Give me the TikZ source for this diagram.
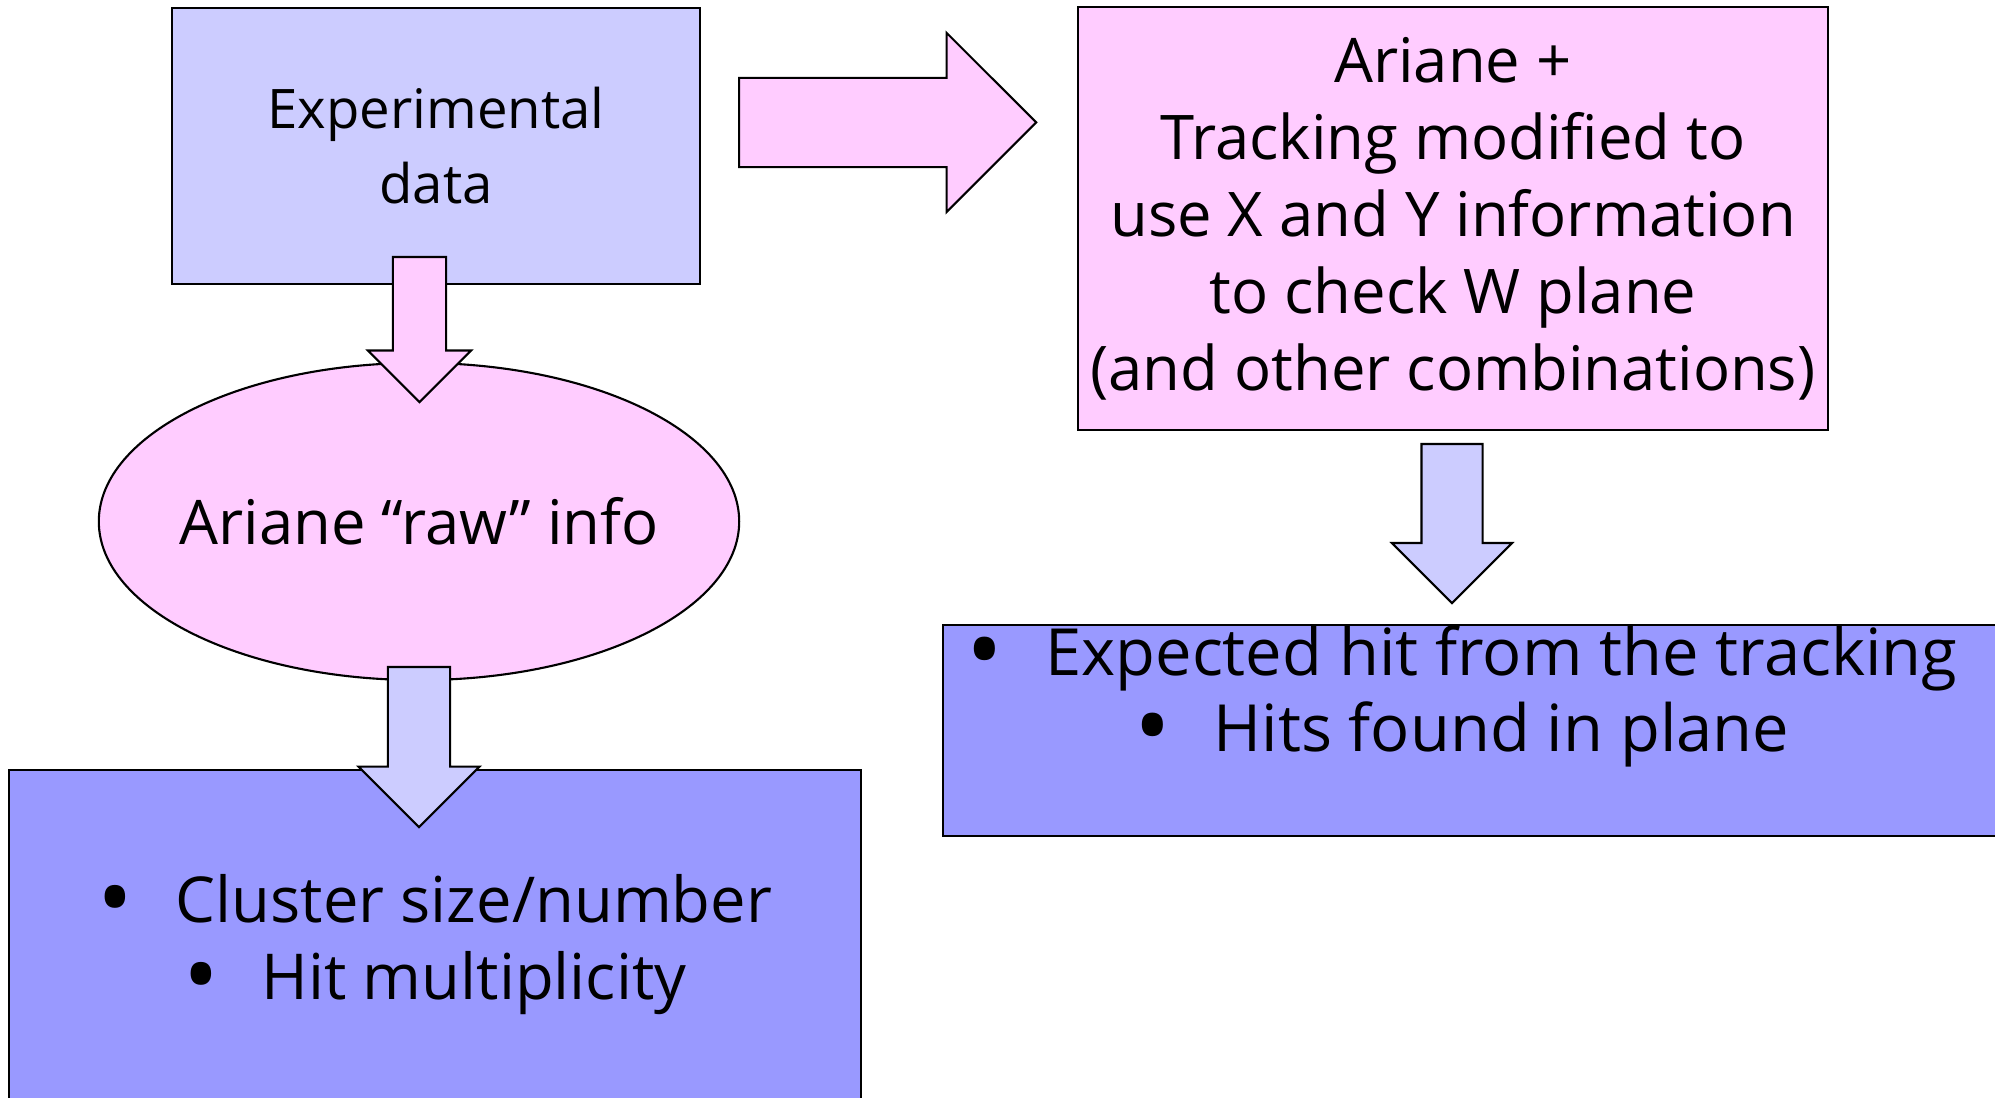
\documentclass[tikz,border=0pt]{standalone}
\usepackage{fontspec}
\setmainfont{Open Sans}
\usepackage{tikz}
\usetikzlibrary{positioning, shapes.geometric, shapes.arrows}
\definecolor{lavender}{HTML}{CCCCFF}
\definecolor{pinkish}{HTML}{FFCCFF}
\definecolor{periwinkle}{HTML}{9999FF}
\tikzset{
    block/.style={
        draw, line width=0.6pt,
        inner sep=0pt,
        align=center
    },
    fatarrow/.style={
        single arrow, draw, line width=0.6pt,
        inner xsep=0pt,
        single arrow tip angle=90,
        anchor=tail
    },
    listtext/.style={
        align=center, inner sep=0pt,
        font=\fontsize{18.5}{21.7}\selectfont
    }
}
\newcommand{\bul}{\raisebox{-0.09cm}{\scalebox{1.5}{\textbullet}}\hspace{0.42cm}}

\begin{document}
\begin{tikzpicture}[x=0.01cm, y=-0.01cm]
    \clip (0,0) rectangle (1995,1098);

    % Blocks
    \node[block, fill=lavender, minimum width=5.28cm, minimum height=2.76cm,
        font=\fontsize{15.5}{21.3}\selectfont] (expdata) at (436,146) {Experimental\\data};
    \node[block, fill=pinkish, minimum width=7.5cm, minimum height=4.23cm,
        font=\fontsize{17.5}{21.9}\selectfont] (tracking) at (1453,218.5)
        {Ariane +\\Tracking modified to\\use X and Y information\\to check W plane\\(and other combinations)};
    \node[draw, ellipse, line width=0.6pt, fill=pinkish, inner sep=0pt,
        minimum width=6.4cm, minimum height=3.17cm] (raw) at (419,521.5) {};
    \node[font=\fontsize{17.5}{21}\selectfont] (rawtext) at (raw) {Ariane “raw” info};
    \node[block, fill=periwinkle, minimum width=8.52cm, minimum height=3.5cm,
        font=\fontsize{18}{21.9}\selectfont] (cluster) at (435,945)
        {\bul Cluster size/number\\\bul Hit multiplicity};
    \node[block, fill=periwinkle, minimum width=10.87cm, minimum height=2.11cm] (hits) at (1486.5,730.5) {};
    \node[listtext, below=0.01cm of hits.north, xshift=-0.245cm] (hitstext)
        {\bul Expected hit from the tracking\\\bul Hits found in plane};

    % Arrows
    \node[fatarrow, fill=pinkish, minimum height=2.97cm, minimum width=1.77cm,
        inner ysep=0.435cm, single arrow head extend=0.45cm] (toTracking) at (738,122.5) {};
    \node[fatarrow, fill=pinkish, rotate=-90, minimum height=1.45cm, minimum width=1.01cm,
        inner ysep=0.255cm, single arrow head extend=0.25cm] (toRaw) at (419.5,256) {};
    \node[fatarrow, fill=lavender, rotate=-90, minimum height=1.6cm, minimum width=1.19cm,
        inner ysep=0.3cm, single arrow head extend=0.295cm] (toCluster) at (419,666) {};
    \node[fatarrow, fill=lavender, rotate=-90, minimum height=1.59cm, minimum width=1.18cm,
        inner ysep=0.295cm, single arrow head extend=0.295cm] (toHits) at (1452,443) {};

\end{tikzpicture}
\end{document}
